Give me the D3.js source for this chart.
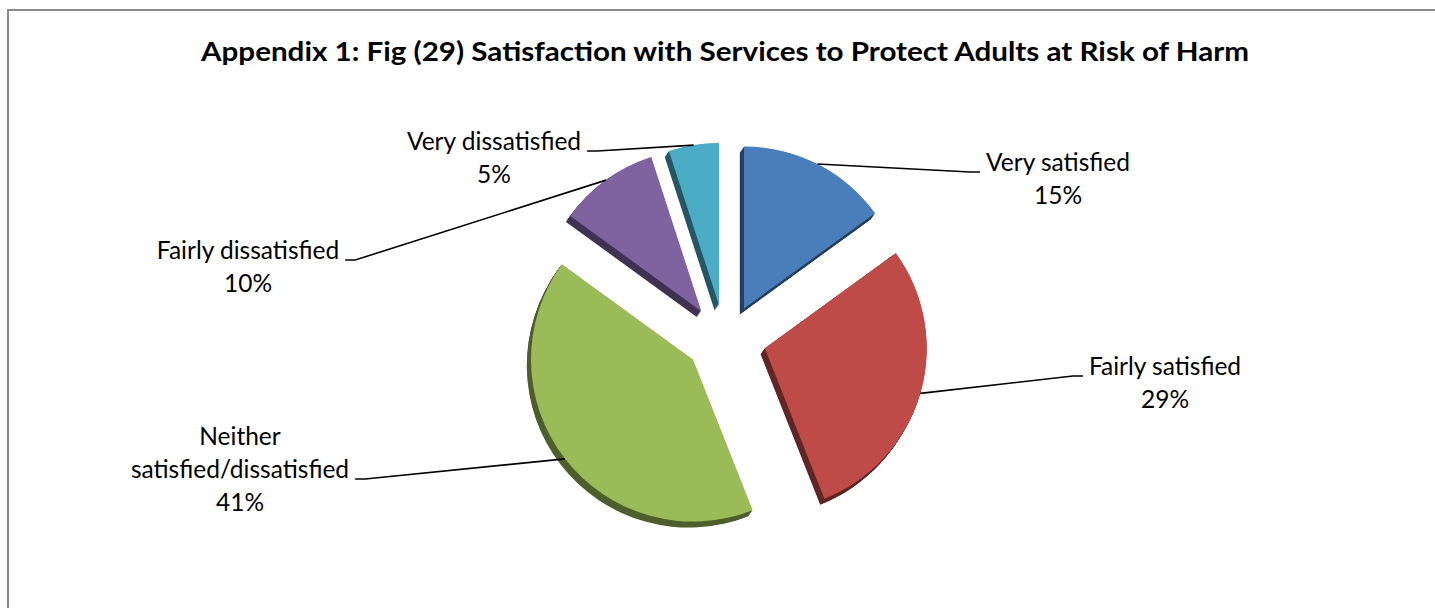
<!DOCTYPE html>
<html>
<head>
<meta charset="utf-8">
<script src="https://cdn.jsdelivr.net/npm/d3@7"></script>
<style>
  html, body { margin: 0; padding: 0; background: #ffffff; }
  svg { display: block; }
  text { font-family: Lato, "Open Sans", sans-serif; fill: #000; }
</style>
</head>
<body>
<svg id="chart" width="1435" height="608"></svg>
<script>
// Survey responses, clockwise from 12 o'clock
const categories = ["Very satisfied", "Fairly satisfied", "Neither satisfied/dissatisfied", "Fairly dissatisfied", "Very dissatisfied"];
const values = [15, 29, 41, 10, 5];
// How each category name wraps in its data label
const labelLines = [["Very satisfied"], ["Fairly satisfied"], ["Neither", "satisfied/dissatisfied"], ["Fairly dissatisfied"], ["Very dissatisfied"]];
const titleText = "Appendix 1: Fig (29) Satisfaction with Services to Protect Adults at Risk of Harm";

const palette = ["#4a7ebb", "#be4b48", "#9bbb59", "#7f63a1", "#4aacc5"];

const W = 1435, H = 608;
const svg = d3.select("#chart");

// chart area frame
svg.append("rect")
  .attr("x", 8).attr("y", 10)
  .attr("width", W + 20).attr("height", H + 20)
  .attr("fill", "#fff").attr("stroke", "#8a8a8a").attr("stroke-width", 2);

// title
svg.append("text")
  .attr("x", 725).attr("y", 61)
  .attr("text-anchor", "middle")
  .style("font-weight", "bold").style("font-size", "27px")
  .attr("textLength", 1048).attr("lengthAdjust", "spacingAndGlyphs")
  .text(titleText);

// pie geometry
const cx = 725.4, cy = 338.7, R = 162;
const explodeX = 41, explodeY = 34;
const depth = 6, lean = -0.7;

const total = d3.sum(values);
const pct = d3.format(".0%");
const pie = d3.pie().sort(null).value(d => d)(values);
const arc = d3.arc().innerRadius(0).outerRadius(R);

const mid = d => (d.startAngle + d.endAngle) / 2;
const offset = d => [cx + explodeX * Math.sin(mid(d)), cy - explodeY * Math.cos(mid(d))];

const slices = svg.append("g");
// extruded sides, drawn beneath every top face
pie.forEach((d, i) => {
  const [ox, oy] = offset(d);
  const side = d3.color(palette[i]).darker(1.9).formatHex();
  for (let k = depth; k >= 0.5; k -= 0.5) {
    slices.append("path")
      .attr("d", arc(d))
      .attr("transform", `translate(${ox + k * lean},${oy + k})`)
      .attr("fill", side);
  }
});
pie.forEach((d, i) => {
  const [ox, oy] = offset(d);
  slices.append("path")
    .attr("d", arc(d))
    .attr("transform", `translate(${ox},${oy})`)
    .attr("fill", palette[i]);
});

// data labels: [centre x, first baseline y]
const labelPos = [[1058, 171], [1165, 375], [240, 445], [248, 259], [494, 150]];
const lineH = 33;
const labels = svg.append("g").style("font-size", "24.5px");

pie.forEach((d, i) => {
  const [lx, ly] = labelPos[i];
  const lines = labelLines[i].concat([pct(values[i] / total)]);
  const t = labels.append("text").attr("text-anchor", "middle");
  lines.forEach((s, j) => {
    t.append("tspan").attr("x", lx).attr("y", ly + j * lineH).text(s);
  });

  // leader line from the label to the outer edge at the slice's mid angle
  const [ox, oy] = offset(d);
  const a = mid(d);
  const px = ox + R * Math.sin(a), py = oy - R * Math.cos(a);
  const nameLine = lines.length - 2; // last line of the category name
  const tsp = t.selectAll("tspan").nodes()[nameLine];
  const w = tsp.getComputedTextLength();
  const by = ly + nameLine * lineH + 1;
  const rightSide = Math.sin(a) > 0;
  const sx = rightSide ? lx - w / 2 - 6 : lx + w / 2 + 6;
  const kx = rightSide ? sx - 10 : sx + 10;
  svg.append("path")
    .attr("d", d3.line()([[sx, by], [kx, by], [px, py]]))
    .attr("fill", "none").attr("stroke", "#000").attr("stroke-width", 1.6);
});
</script>
</body>
</html>
